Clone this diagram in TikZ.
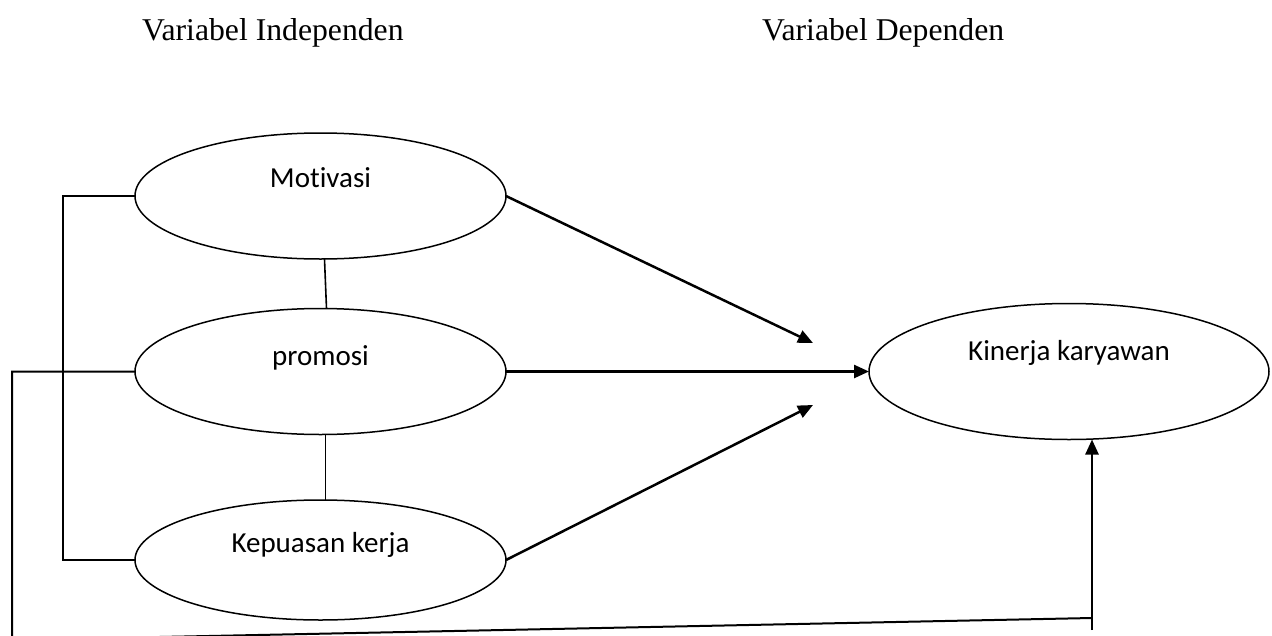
\documentclass[tikz,border=0pt]{standalone}
\usepackage{fontspec}
\setmainfont{Liberation Serif}
\newfontfamily\calfont[Ligatures={NoCommon},RawFeature={-liga;-clig;-dlig}]{Carlito}
\usetikzlibrary{shapes.geometric,arrows.meta}
\begin{document}
\begin{tikzpicture}[x=1pt,y=-1pt,
  ov/.style={ellipse,draw,line width=1.5pt,minimum width=371pt,minimum height=126pt,inner sep=0pt,outer sep=0pt},
  lbl/.style={font=\calfont\fontsize{29}{34}\selectfont,anchor=base,inner sep=0pt},
  head/.style={font=\fontsize{31.7}{38}\selectfont,anchor=base west,inner sep=0pt},
  link/.style={line width=1.6pt},
  arr/.style={line width=2.5pt,-{Triangle[length=15pt,width=13pt]}},
]
\useasboundingbox (0,0) rectangle (1272,635);
\clip (0,0) rectangle (1272,635);
\node[head] (h1) at (142,40) {Variabel Independen};
\node[head] (h2) at (762,40) {Variabel Dependen};

\node[ov] (mot) at (320.5,196) {};
\node[ov] (pro) at (320.5,371.5) {};
\node[ov,minimum height=120pt] (kep) at (320.5,560) {};
\node[ov,minimum width=400pt,minimum height=136pt] (kin) at (1069,371.5) {};

\node[lbl] (motT) at (320.5,187) {Motivasi};
\node[lbl] (proT) at (320.5,365) {promosi};
\node[lbl] (kepT) at (320.5,552) {Kepuasan kerja};
\node[lbl] (kinT) at (1069,360) {Kinerja karyawan};

\coordinate (t1) at (813,343);
\coordinate (t3) at (813,405);
\coordinate (lx) at (63,0);
\coordinate (ox) at (12,0);
\coordinate (bl) at (12,640);
\coordinate (br) at (1092,618);
\coordinate (bb) at (1092,630);

\draw[arr] (mot.east) -- (t1);
\draw[arr] (pro.east) -- (kin.west);
\draw[arr] (kep.east) -- (t3);
\draw[link] (mot.west) -- (mot.west -| lx) -- (kep.west -| lx) -- (kep.west);
\draw[link] ([xshift=4pt]mot.south) -- ([xshift=6pt]pro.north);
\draw[link] ([xshift=5pt]pro.south) -- ([xshift=5pt]kep.north);
\draw[line width=2pt] (pro.west) -- (pro.west -| ox) -- (bl) -- (br);
\draw[arr] (bb) -- (bb |- kin.south);
\end{tikzpicture}
\end{document}
